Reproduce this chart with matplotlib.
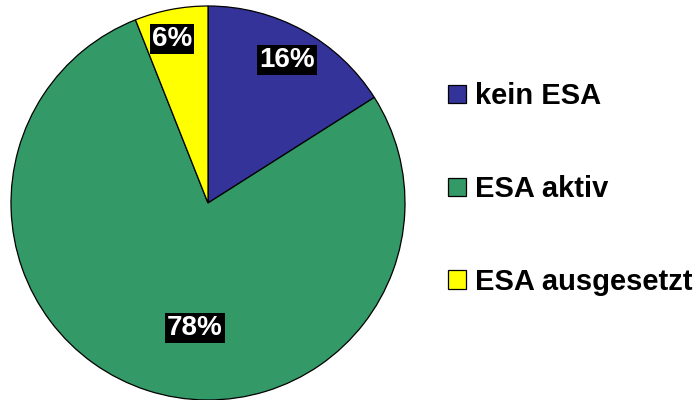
import numpy as np
import matplotlib.pyplot as plt

plt.rcParams['font.family'] = ['Liberation Sans', 'DejaVu Sans']

categories = ['kein ESA', 'ESA aktiv', 'ESA ausgesetzt']
shares = [16, 78, 6]
colors = ['#333399', '#339966', '#FFFF00']

# label placement inside each wedge (radius fraction, angle shift in degrees)
label_radius = [0.83, 0.64, 0.85]
label_shift = [0, 12, 1.5]

fig = plt.figure(figsize=(6.97, 4.0), dpi=100)
ax = fig.add_axes([11 / 697, 0.0, 394 / 697, 394 / 400])

wedges, _ = ax.pie(shares, colors=colors, startangle=90, counterclock=False,
                   wedgeprops=dict(edgecolor='black', linewidth=0.9))

for w, val, r, shift in zip(wedges, shares, label_radius, label_shift):
    mid = np.deg2rad((w.theta1 + w.theta2) / 2 + shift)
    ax.text(r * np.cos(mid), r * np.sin(mid), f'{val}%', ha='center', va='center',
            color='white', fontsize=20, fontweight='bold',
            bbox=dict(facecolor='black', edgecolor='none', pad=1.5))

ax.set_xlim(-1, 1)
ax.set_ylim(-1, 1)
ax.set_aspect('equal')
ax.axis('off')

fig.legend(wedges, categories, loc='center left', bbox_to_anchor=(448 / 697, 1 - 189 / 400),
           frameon=False, borderpad=0, borderaxespad=0, handlelength=0.62, handleheight=0.58,
           handletextpad=0.31, labelspacing=2.22,
           prop=dict(family='Liberation Sans', weight='bold', size=21))

fig.savefig('out.png', dpi=100)
